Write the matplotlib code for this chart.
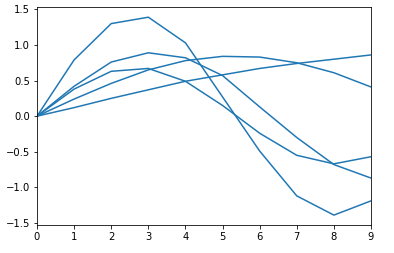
import matplotlib
matplotlib.use("Agg")
import matplotlib.pyplot as plt

x = [0, 1, 2, 3, 4, 5, 6, 7, 8, 9]
line_a = [0, 0.79, 1.30, 1.39, 1.03, 0.27, -0.49, -1.12, -1.39, -1.19]
line_b = [0, 0.42, 0.76, 0.89, 0.82, 0.57, 0.13, -0.30, -0.68, -0.87]
line_c = [0, 0.38, 0.63, 0.67, 0.49, 0.15, -0.24, -0.55, -0.67, -0.57]
line_d = [0, 0.24, 0.46, 0.65, 0.78, 0.84, 0.83, 0.75, 0.61, 0.41]
line_e = [0, 0.12, 0.25, 0.37, 0.49, 0.58, 0.67, 0.74, 0.80, 0.86]

fig = plt.figure(figsize=(394/72, 253/72), dpi=72)
ax = fig.add_axes([37/394, (253-225)/253, (371-37)/394, (225-7.3)/253])
for ys in [line_a, line_b, line_c, line_d, line_e]:
    ax.plot(x, ys, color="#1f77b4")
ax.set_xlim(0, 9)
ax.set_xticks(range(10))
fig.savefig("out.png", dpi=72)
